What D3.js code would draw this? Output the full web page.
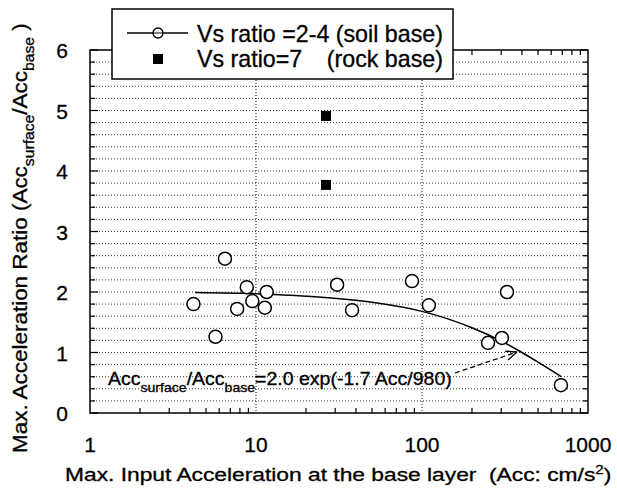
<!DOCTYPE html>
<html>
<head>
<meta charset="utf-8">
<script src="https://cdn.jsdelivr.net/npm/d3@7"></script>
<style>
  body { margin: 0; background: #fff; }
  text { font-family: "Liberation Sans", Arial, sans-serif; fill: #000; stroke: #000; stroke-width: 0.3; }
</style>
</head>
<body>
<svg id="chart" width="617" height="490"></svg>
<script>
// soil base (Vs ratio 2-4): input acc vs ratio
const soilAcc   = [4.2, 5.7, 6.5, 7.7, 8.8, 9.5, 11.3, 11.6, 30.8, 37.9, 87, 110, 250, 303, 325, 687];
const soilRatio = [1.80, 1.26, 2.55, 1.72, 2.08, 1.85, 1.74, 2.00, 2.12, 1.70, 2.18, 1.78, 1.16, 1.24, 2.00, 0.46];
// rock base (Vs ratio 7)
const rockAcc   = [26.4, 26.4];
const rockRatio = [4.91, 3.77];
// fitted curve
const fitAcc   = [4.3, 10, 20, 50, 100, 200, 300, 400, 500, 690];
const fitRatio = [1.99, 1.97, 1.93, 1.83, 1.68, 1.41, 1.19, 1.00, 0.84, 0.60];
const xTicks = [1, 10, 100, 1000];
const yTicks = [0, 1, 2, 3, 4, 5, 6];

const svg = d3.select('#chart');
const pLeft = 90, pRight = 588, pTop = 50, pBottom = 413;

const x = d3.scaleLog().domain([1, 1000]).range([pLeft, pRight]);
const y = d3.scaleLinear().domain([0, 6]).range([pBottom, pTop]);

// stretch a text horizontally so it spans x0..x1 (reference font is wide)
function stretch(sel, x0, x1) {
  const bb = sel.node().getBBox();
  const sx = (x1 - x0) / bb.width;
  sel.attr('transform', `translate(${x0},0) scale(${sx},1) translate(${-bb.x},0)`);
  return sx;
}
// same horizontal scale, placed by start (or end when alignEnd)
function scaleAt(sel, xpos, sx, alignEnd) {
  const bb = sel.node().getBBox();
  const start = alignEnd ? xpos - bb.width * sx : xpos;
  sel.attr('transform', `translate(${start},0) scale(${sx},1) translate(${-bb.x},0)`);
}

// grid: horizontal every 0.2, vertical at decades
const gridVals = d3.range(1, 30).map(i => i * 0.2);
svg.append('g').selectAll('line').data(gridVals).enter().append('line')
  .attr('x1', pLeft).attr('x2', pRight)
  .attr('y1', d => y(d)).attr('y2', d => y(d))
  .attr('stroke', '#222').attr('stroke-width', 0.9).attr('stroke-dasharray', '1,2');
svg.append('g').selectAll('line').data([10, 100]).enter().append('line')
  .attr('x1', d => x(d)).attr('x2', d => x(d))
  .attr('y1', pTop).attr('y2', pBottom)
  .attr('stroke', '#111').attr('stroke-width', 1).attr('stroke-dasharray', '1,2');

// frame
svg.append('rect').attr('x', pLeft).attr('y', pTop)
  .attr('width', pRight - pLeft).attr('height', pBottom - pTop)
  .attr('fill', 'none').attr('stroke', '#000').attr('stroke-width', 1.5);

// inward ticks on all sides
const minorX = [];
[1, 10, 100].forEach(dec => { for (let k = 2; k <= 9; k++) minorX.push(dec * k); });
const tickG = svg.append('g').attr('stroke', '#000').attr('stroke-width', 1.2);
minorX.forEach(v => {
  tickG.append('line').attr('x1', x(v)).attr('x2', x(v)).attr('y1', pBottom).attr('y2', pBottom - 5);
  tickG.append('line').attr('x1', x(v)).attr('x2', x(v)).attr('y1', pTop).attr('y2', pTop + 5);
});
d3.range(0, 31).map(i => i * 0.2).forEach(v => {
  const len = Math.abs(v - Math.round(v)) < 1e-6 ? 8 : 5;
  tickG.append('line').attr('x1', pLeft).attr('x2', pLeft + len).attr('y1', y(v)).attr('y2', y(v));
  tickG.append('line').attr('x1', pRight).attr('x2', pRight - len).attr('y1', y(v)).attr('y2', y(v));
});

// tick labels
svg.append('g').selectAll('text').data(xTicks).enter().append('text')
  .attr('x', d => x(d)).attr('y', 452)
  .attr('text-anchor', 'middle').attr('font-size', 21)
  .text(d => d);
svg.append('g').selectAll('text').data(yTicks).enter().append('text')
  .attr('x', 68).attr('y', d => y(d) + 8)
  .attr('text-anchor', 'end').attr('font-size', 21)
  .text(d => d);

// fitted curve
svg.append('path')
  .datum(fitAcc.map((a, i) => [a, fitRatio[i]]))
  .attr('d', d3.line().x(d => x(d[0])).y(d => y(d[1])).curve(d3.curveMonotoneX))
  .attr('fill', 'none').attr('stroke', '#000').attr('stroke-width', 1.5);

// soil points
svg.append('g').selectAll('circle').data(soilAcc).enter().append('circle')
  .attr('cx', d => x(d)).attr('cy', (d, i) => y(soilRatio[i])).attr('r', 6.5)
  .attr('fill', '#fff').attr('stroke', '#000').attr('stroke-width', 1.5);

// rock points
svg.append('g').selectAll('rect').data(rockAcc).enter().append('rect')
  .attr('x', d => x(d) - 5).attr('y', (d, i) => y(rockRatio[i]) - 5)
  .attr('width', 10).attr('height', 10).attr('fill', '#000');

// annotation
const ann = svg.append('text').attr('x', 0).attr('y', 385).attr('font-size', 18);
ann.append('tspan').text('Acc');
ann.append('tspan').attr('dy', 7).attr('font-size', 13).text('surface');
ann.append('tspan').attr('dy', -7).text('/Acc');
ann.append('tspan').attr('dy', 7).attr('font-size', 13).text('base');
ann.append('tspan').attr('dy', -7).text('=2.0 exp(-1.7 Acc/980)');
stretch(ann, 108, 452);

// dashed arrow
const ax1 = 455, ay1 = 373, ax2 = 517, ay2 = 352;
svg.append('line').attr('x1', ax1).attr('y1', ay1).attr('x2', ax2).attr('y2', ay2)
  .attr('stroke', '#000').attr('stroke-width', 1.3).attr('stroke-dasharray', '5,3');
const ang = Math.atan2(ay2 - ay1, ax2 - ax1);
[0.4, -0.4].forEach(da => {
  svg.append('line').attr('x1', ax2).attr('y1', ay2)
    .attr('x2', ax2 - 12 * Math.cos(ang + da)).attr('y2', ay2 - 12 * Math.sin(ang + da))
    .attr('stroke', '#000').attr('stroke-width', 1.3);
});

// legend
const lg = svg.append('g');
lg.append('rect').attr('x', 112).attr('y', 9).attr('width', 341).attr('height', 70)
  .attr('fill', '#fff').attr('stroke', '#000').attr('stroke-width', 1.5);
lg.append('line').attr('x1', 127).attr('x2', 188).attr('y1', 33).attr('y2', 33)
  .attr('stroke', '#000').attr('stroke-width', 1.5);
lg.append('circle').attr('cx', 158).attr('cy', 33).attr('r', 5)
  .attr('fill', '#fff').attr('stroke', '#000').attr('stroke-width', 1.3);
lg.append('line').attr('x1', 153).attr('x2', 163).attr('y1', 33).attr('y2', 33)
  .attr('stroke', '#000').attr('stroke-width', 1);
lg.append('rect').attr('x', 153).attr('y', 54).attr('width', 10).attr('height', 10).attr('fill', '#000');
const lsx = stretch(lg.append('text').attr('y', 42).attr('font-size', 23).text('Vs ratio =2-4 (soil base)'), 197, 443);
scaleAt(lg.append('text').attr('y', 67).attr('font-size', 23).text('Vs ratio=7'), 197, lsx, false);
scaleAt(lg.append('text').attr('y', 67).attr('font-size', 23).text('(rock base)'), 443, lsx, true);

// axis titles
const xt = svg.append('text').attr('y', 481).attr('font-size', 18).style('white-space', 'pre');
xt.append('tspan').text('Max. Input Acceleration at the base layer  (Acc: cm/s');
xt.append('tspan').attr('dy', -7).attr('font-size', 12).text('2');
xt.append('tspan').attr('dy', 7).text(')');
stretch(xt, 65, 612);

const ytG = svg.append('g').attr('transform', 'translate(27,453) rotate(-90)');
const yt = ytG.append('text').attr('y', 0).attr('font-size', 20).style('white-space', 'pre');
yt.append('tspan').text('Max. Acceleration Ratio (Acc');
yt.append('tspan').attr('dy', 7).attr('font-size', 14).text('surface');
yt.append('tspan').attr('dy', -7).text('/Acc');
yt.append('tspan').attr('dy', 7).attr('font-size', 14).text('base');
yt.append('tspan').attr('dy', -7).text(' )');
stretch(yt, 0, 430);
</script>
</body>
</html>
